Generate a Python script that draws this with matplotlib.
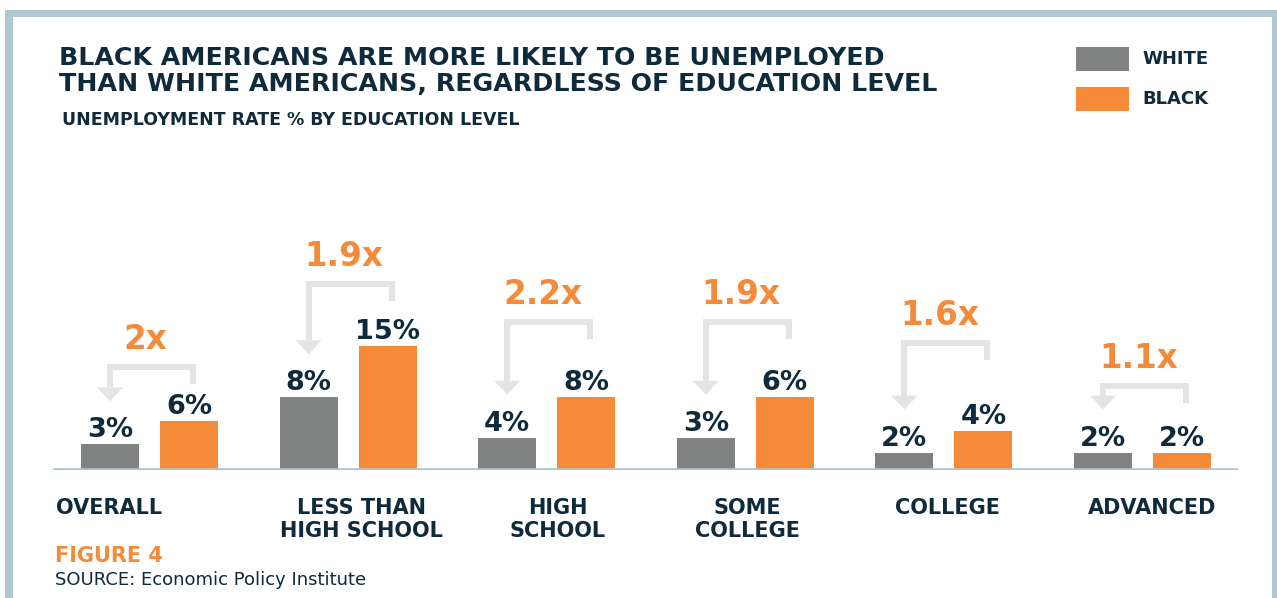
import matplotlib.pyplot as plt
from matplotlib.patches import Rectangle, Polygon
import numpy as np

# data
categories = ["OVERALL", "LESS THAN\nHIGH SCHOOL", "HIGH\nSCHOOL", "SOME\nCOLLEGE", "COLLEGE", "ADVANCED"]
white = [3.1, 8.8, 3.9, 3.9, 2.1, 2.1]
black = [5.9, 15.0, 8.8, 8.8, 4.7, 2.1]
white_labels = ["3%", "8%", "4%", "3%", "2%", "2%"]
black_labels = ["6%", "15%", "8%", "6%", "4%", "2%"]
ratios = ["2x", "1.9x", "2.2x", "1.9x", "1.6x", "1.1x"]

# layout (pixels)
bracket_px = [54, 62, 75, 75, 88, 67]      # bracket height above the black bar
label_dx_px = [-40, 13, 11, 2, 4, 10]      # category label shift from group centre

NAVY = "#0e2a3b"
GRAY = "#818282"
ORANGE = "#f58a38"
ARROW = "#e3e4e4"
FRAME = "#aec7d1"
AXLINE = "#a9c5d0"

W, H = 1277, 598
fig = plt.figure(figsize=(W / 100, H / 100), dpi=100)
fig.patch.set_facecolor("white")
plt.rcParams['font.family'] = ['DejaVu Sans']

# frame strips
fig.add_artist(Rectangle((5 / W, 0), (W - 5) / W, 1 - 10 / H, transform=fig.transFigure,
                         facecolor=FRAME, edgecolor="none", zorder=0))
fig.add_artist(Rectangle((13 / W, 0), (1272 - 13) / W, 1 - 17 / H, transform=fig.transFigure,
                         facecolor="white", edgecolor="none", zorder=0))

ax = fig.add_axes([53 / W, 1 - 470 / H, (1238 - 53) / W, (470 - 150) / H])
px_per_pct = 8.27
step = 198.6
ax.set_ylim(0, (470 - 150) / px_per_pct)
ax.set_xlim(-(149.5 - 53) / step, (1238 - 149.5) / step)
ax.axis('off')


def py(n):
    return n / px_per_pct


def pxx(n):
    return n / step


x = np.arange(len(categories))
off = pxx(39.5)
bw = pxx(58)
ax.bar(x - off, white, bw, color=GRAY, zorder=2)
ax.bar(x + off, black, bw, color=ORANGE, zorder=2)
ax.axhline(0, color=AXLINE, lw=2.6, zorder=3, solid_capstyle='butt')

for i in range(len(categories)):
    ax.annotate(white_labels[i], (x[i] - off, white[i]), xytext=(0, 5), textcoords='offset points',
                ha='center', va='baseline', fontsize=19.5, fontweight='bold', color=NAVY)
    ax.annotate(black_labels[i], (x[i] + off, black[i]), xytext=(0, 5), textcoords='offset points',
                ha='center', va='baseline', fontsize=19.5, fontweight='bold', color=NAVY)

    xl = x[i] - off
    xr = x[i] + off + pxx(4)
    yh = max(white[i], black[i]) + py(bracket_px[i])
    yr = yh - py(17)
    ytip = white[i] + py(43)
    ybase = ytip + py(14)
    ax.plot([xr, xr, xl, xl], [yr, yh, yh, ybase], color=ARROW, lw=4.3,
            solid_joinstyle='miter', solid_capstyle='butt', zorder=1, clip_on=False)
    ax.add_patch(Polygon([[xl - pxx(13), ybase], [xl + pxx(13), ybase], [xl, ytip]],
                         closed=True, facecolor=ARROW, edgecolor='none', zorder=1, clip_on=False))
    ax.text(x[i] - pxx(4), yh + py(18), ratios[i], ha='center', va='baseline',
            fontsize=23.5, fontweight='bold', color=ORANGE, clip_on=False)

    ax.annotate(categories[i], (x[i] + pxx(label_dx_px[i]), 0), xytext=(0, -20),
                textcoords='offset points', ha='center', va='top', fontsize=15,
                fontweight='bold', color=NAVY, linespacing=1.22, annotation_clip=False)

# titles
fig.text(59 / W, 1 - 65 / H, "BLACK AMERICANS ARE MORE LIKELY TO BE UNEMPLOYED",
         fontsize=18.2, fontweight='bold', color=NAVY, va='baseline')
fig.text(59 / W, 1 - 91 / H, "THAN WHITE AMERICANS, REGARDLESS OF EDUCATION LEVEL",
         fontsize=18.2, fontweight='bold', color=NAVY, va='baseline')
fig.text(62 / W, 1 - 125 / H, "UNEMPLOYMENT RATE % BY EDUCATION LEVEL",
         fontsize=12.5, fontweight='bold', color=NAVY, va='baseline')

# legend
for (label, color, top) in [("WHITE", GRAY, 47), ("BLACK", ORANGE, 87)]:
    fig.add_artist(Rectangle((1076 / W, 1 - (top + 24) / H), 53 / W, 24 / H,
                             transform=fig.transFigure, facecolor=color, edgecolor='none'))
    fig.text(1142 / W, 1 - (top + 17) / H, label, fontsize=13, fontweight='bold',
             color=NAVY, va='baseline')

fig.text(55 / W, 1 - 562 / H, "FIGURE 4", fontsize=15, fontweight='bold', color=ORANGE, va='baseline')
fig.text(55 / W, 1 - 585 / H, "SOURCE: Economic Policy Institute", fontsize=13, color=NAVY, va='baseline')

fig.savefig("out.png", dpi=100, facecolor=fig.get_facecolor())
